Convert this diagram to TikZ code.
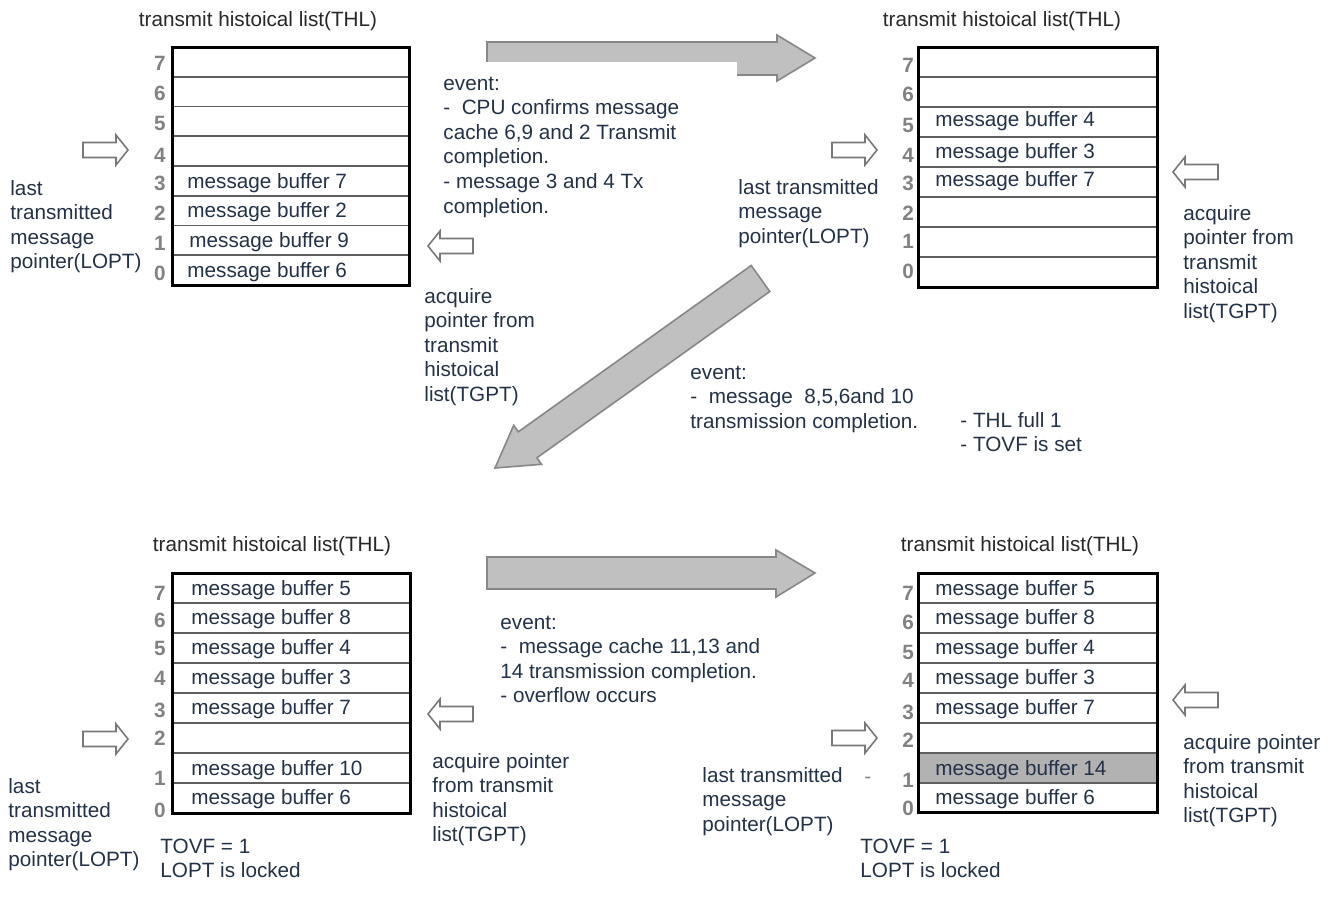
\documentclass[tikz,border=0pt]{standalone}
\usepackage{fontspec}
\setmainfont{Liberation Sans}
\definecolor{txt}{RGB}{35,50,72}
\definecolor{ttl}{RGB}{40,40,40}
\definecolor{digit}{RGB}{130,130,130}
\definecolor{bigfill}{RGB}{192,192,192}
\definecolor{bigline}{RGB}{135,135,135}
\definecolor{hollow}{RGB}{120,120,120}
\definecolor{rowline}{RGB}{95,95,95}
\definecolor{shadegray}{RGB}{178,178,178}
\begin{document}
\begin{tikzpicture}[x=0.5bp,y=-0.5bp,
  lbl/.style={font=\fontsize{10.35bp}{12.3bp}\selectfont, text=txt, inner sep=0pt, align=left, anchor=base west},
  ttlst/.style={font=\fontsize{10.35bp}{12.3bp}\selectfont, text=ttl, inner sep=0pt, anchor=base},
  dig/.style={font=\fontsize{10.35bp}{12.3bp}\selectfont\bfseries, text=digit, inner sep=0pt, anchor=base},
  buf/.style={font=\fontsize{10.35bp}{12.3bp}\selectfont, text=txt, inner sep=0pt, anchor=base west},
  thl/.style={draw=black, line width=1.5bp, inner sep=0pt},
  rowsep/.style={draw=rowline, line width=0.8bp},
  bigarrow/.style={fill=bigfill, draw=bigline, line width=0.8bp, line join=miter},
  hollowst/.style={fill=white, draw=hollow, line width=0.8bp},
  rarr/.pic={\draw[hollowst] (0,-7.5) -- (33,-7.5) -- (33,-15) -- (45,0) -- (33,15) -- (33,7.5) -- (0,7.5) -- cycle;},
  larr/.pic={\draw[hollowst] (45,-7.5) -- (12,-7.5) -- (12,-15) -- (0,0) -- (12,15) -- (12,7.5) -- (45,7.5) -- cycle;}
]
\useasboundingbox[fill=white] (0,0) rectangle (1335,911);

% ---------- big arrows ----------
\draw[bigarrow] (487,42) -- (777,42) -- (777,35) -- (815,58) -- (777,81) -- (777,75) -- (487,75) -- cycle;
\fill[white] (483,62) rectangle (737,80);
\draw[bigarrow] (751.2,265.5) -- (518.3,431.8) -- (513.7,425.3) -- (495,468) -- (541.5,464.3) -- (536.9,457.8) -- (769.8,291.5) -- cycle;
\draw[bigarrow] (487,557) -- (776,557) -- (776,550) -- (815,573) -- (776,597) -- (776,589) -- (487,589) -- cycle;

% ---------- panel TL ----------
\node[ttlst] (t1) at (258,26) {transmit histoical list(THL)};
\foreach \j in {1,...,7} \draw[rowsep] (172,{47+29.75*\j}) -- (409,{47+29.75*\j});
\draw[thl] (172,47) rectangle (409,285);
\foreach \d/\y [count=\k] in {7/70,6/100,5/130,4/162,3/190,2/220,1/250,0/280}
  \node[dig] (d1\k) at (160,\y) {\d};
\node[buf] (b1a) at (187,188) {message buffer 7};
\node[buf] (b1b) at (187,217) {message buffer 2};
\node[buf] (b1c) at (189,247) {message buffer 9};
\node[buf] (b1d) at (187,277) {message buffer 6};
\pic at (83,150) {rarr};
\pic at (428,246) {larr};
\node[lbl] (lopt1) at (10,268.8) {last\\transmitted\\message\\pointer(LOPT)};
\node[lbl] (tgpt1) at (424,401.4) {acquire\\pointer from\\transmit\\histoical\\list(TGPT)};

% ---------- event 1 ----------
\node[lbl] (ev1) at (443,213) {event:\\-~~CPU confirms message\\cache 6,9 and 2 Transmit\\completion.\\- message 3 and 4 Tx\\completion.};

% ---------- panel TR ----------
\node[ttlst] (t2) at (1002,26) {transmit histoical list(THL)};
\foreach \j in {1,...,7} \draw[rowsep] (918,{47+30*\j}) -- (1157,{47+30*\j});
\draw[thl] (918,47) rectangle (1157,287);
\foreach \d/\y [count=\k] in {7/72,6/101,5/132,4/162,3/190,2/220,1/248,0/278}
  \node[dig] (d2\k) at (908,\y) {\d};
\node[buf] (b2a) at (935,126) {message buffer 4};
\node[buf] (b2b) at (935,158) {message buffer 3};
\node[buf] (b2c) at (935,186) {message buffer 7};
\pic at (832,150) {rarr};
\pic at (1173,172) {larr};
\node[lbl] (lopt2) at (738,243.2) {last transmitted\\message\\pointer(LOPT)};
\node[lbl] (tgpt2) at (1183,318.4) {acquire\\pointer from\\transmit\\histoical\\list(TGPT)};

% ---------- event 2 ----------
\node[lbl] (ev2) at (690,428.2) {event:\\-~~message~~8,5,6and 10\\transmission completion.};
\node[lbl] (ev2b) at (960,451.6) {- THL full 1\\- TOVF is set};

% ---------- panel BL ----------
\node[ttlst] (t3) at (272,551) {transmit histoical list(THL)};
\foreach \j in {1,...,7} \draw[rowsep] (172,{573+30*\j}) -- (410,{573+30*\j});
\draw[thl] (172,573) rectangle (410,813);
\foreach \d/\y [count=\k] in {7/600,6/627,5/655,4/685,3/717,2/745,1/785,0/817}
  \node[dig] (d3\k) at (160,\y) {\d};
\foreach \t/\y [count=\k] in {5/595,8/624,4/654,3/684,7/714,10/775,6/804}
  \node[buf] (b3\k) at (191,\y) {message buffer \t};
\pic at (83,739) {rarr};
\pic at (428,714) {larr};
\node[lbl] (lopt3) at (8,866.8) {last\\transmitted\\message\\pointer(LOPT)};
\node[lbl] (tgpt3) at (432,841.8) {acquire pointer\\from transmit\\histoical\\list(TGPT)};
\node[lbl] (tovf3) at (160,877.6) {TOVF = 1\\LOPT is locked};

% ---------- event 3 ----------
\node[lbl] (ev3) at (500,702.8) {event:\\-~~message cache 11,13 and\\14 transmission completion.\\- overflow occurs};

% ---------- panel BR ----------
\node[ttlst] (t4) at (1020,551) {transmit histoical list(THL)};
\fill[shadegray] (918,753) rectangle (1157,783);
\foreach \j in {1,...,7} \draw[rowsep] (918,{573+30*\j}) -- (1157,{573+30*\j});
\draw[thl] (918,573) rectangle (1157,812);
\foreach \d/\y [count=\k] in {7/600,6/629,5/659,4/687,3/719,2/747,1/787,0/815}
  \node[dig] (d4\k) at (908,\y) {\d};
\foreach \t/\y [count=\k] in {5/595,8/624,4/654,3/684,7/714,14/775,6/804}
  \node[buf] (b4\k) at (935,\y) {message buffer \t};
\pic at (832,738) {rarr};
\pic at (1173,700) {larr};
\node[lbl] (lopt4) at (702,831.2) {last transmitted\\message\\pointer(LOPT)};
\node[buf, text=digit] (dash4) at (864,783) {-};
\node[lbl] (tgpt4) at (1183,822.8) {acquire pointer\\from transmit\\histoical\\list(TGPT)};
\node[lbl] (tovf4) at (860,877.6) {TOVF = 1\\LOPT is locked};
\end{tikzpicture}
\end{document}
